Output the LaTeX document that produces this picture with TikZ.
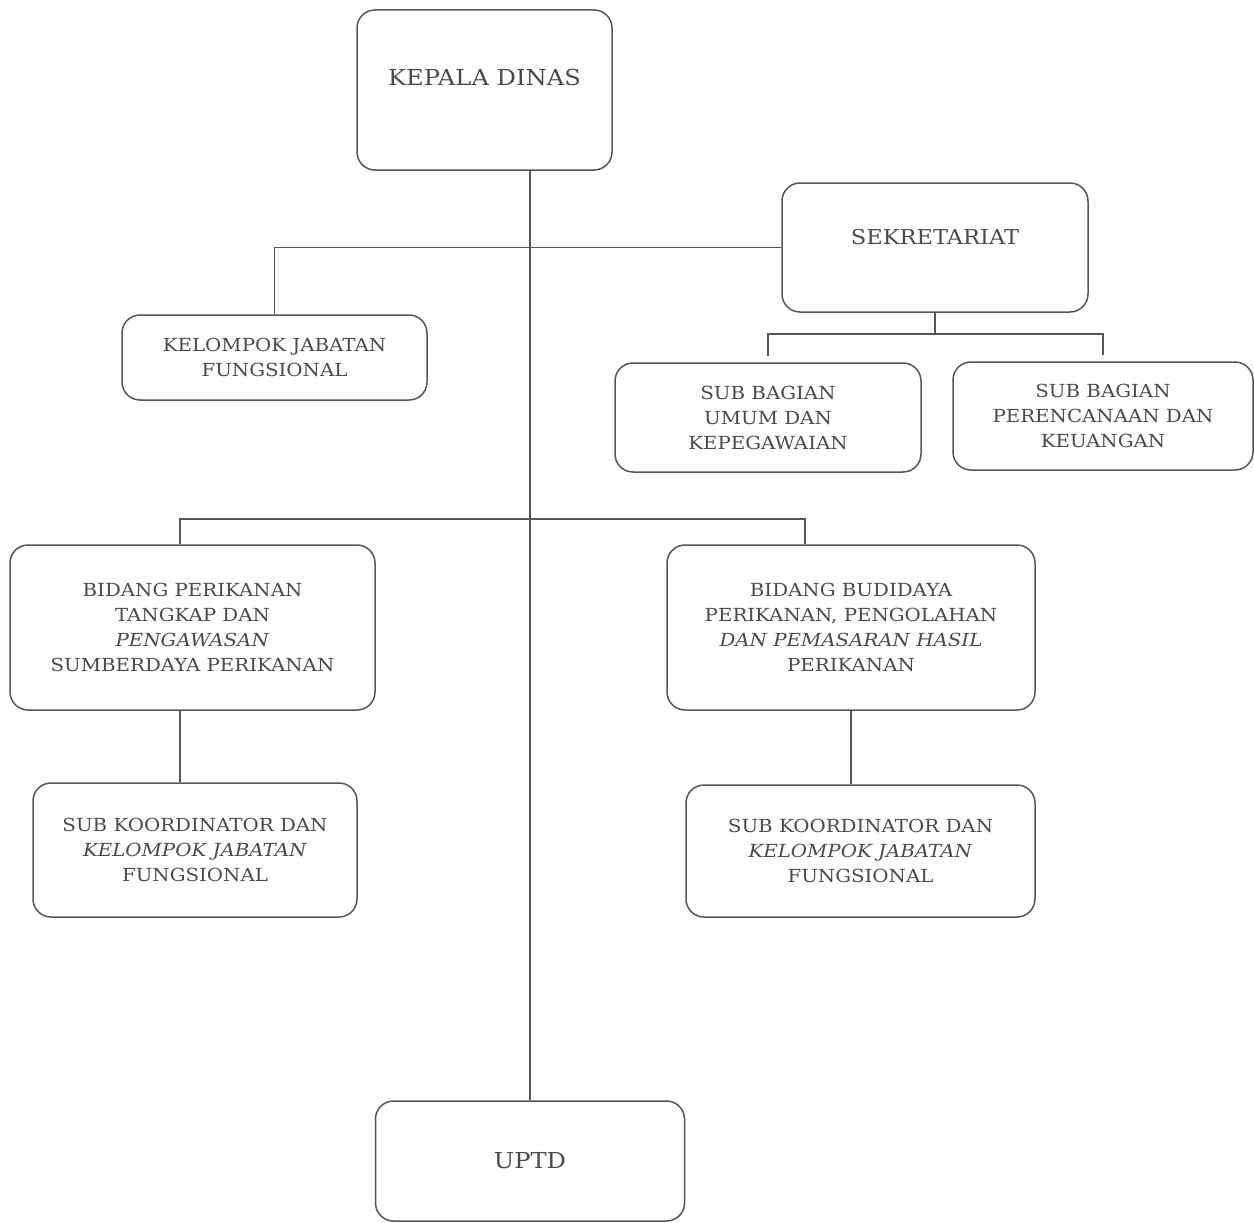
\documentclass[tikz,border=0pt]{standalone}
\usepackage{fontspec}
\setmainfont{DejaVu Serif}[FakeStretch=1.1]
\usetikzlibrary{positioning, calc}
\definecolor{garisAbu}{HTML}{555555}
\definecolor{teksAbu}{HTML}{4A4A4A}

\begin{document}
\begin{tikzpicture}[x=1pt, y=-1pt, font=\fontsize{18}{25}\selectfont,
        kotak/.style={draw=garisAbu, line width=1.5pt, rounded corners=18pt,
            align=center, inner sep=0pt, text=teksAbu},
        besar/.style={font=\fontsize{22}{25}\selectfont},
        garis/.style={draw=garisAbu, line width=1.5pt}]
    \useasboundingbox (0,0) rectangle (1254,1223);
    % pimpinan
    \node[kotak, besar, minimum width=255pt, minimum height=160pt,
        text height=16pt, text depth=24pt] (kadis) at (484.5,90) {KEPALA DINAS};
    \node[kotak, besar, font=\fontsize{20.5}{25}\selectfont, minimum width=306pt, minimum height=129pt,
        text height=15pt, text depth=21pt] (sekre) at (935,247.5) {SEKRETARIAT};
    \node[kotak, minimum width=305pt, minimum height=85pt] (kjf) at (274.5,357.5)
        {KELOMPOK JABATAN\\FUNGSIONAL};
    % sub bagian
    \node[kotak, minimum width=306pt, minimum height=109pt] (subum) at (768,417.5)
        {SUB BAGIAN\\UMUM DAN\\KEPEGAWAIAN};
    \node[kotak, minimum width=300pt, minimum height=108pt] (subren) at (1103,416)
        {SUB BAGIAN\\PERENCANAAN DAN\\KEUANGAN};
    % bidang
    \node[kotak, minimum width=365pt, minimum height=165pt] (bidtangkap) at (192.5,627.5)
        {BIDANG PERIKANAN\\TANGKAP DAN\\\textit{PENGAWASAN}\\SUMBERDAYA PERIKANAN};
    \node[kotak, minimum width=368pt, minimum height=165pt] (bidbudi) at (851,627.5)
        {BIDANG BUDIDAYA\\PERIKANAN, PENGOLAHAN\\\textit{DAN PEMASARAN HASIL}\\PERIKANAN};
    \node[kotak, minimum width=324pt, minimum height=134pt] (koorkiri) at (195,850)
        {SUB KOORDINATOR DAN\\\textit{KELOMPOK JABATAN}\\FUNGSIONAL};
    \node[kotak, minimum width=349pt, minimum height=132pt] (koorkanan) at (860.5,851)
        {SUB KOORDINATOR DAN\\\textit{KELOMPOK JABATAN}\\FUNGSIONAL};
    \node[kotak, besar, minimum width=309pt, minimum height=120pt] (uptd) at (530,1161) {UPTD};

    % garis komando
    \draw[garis] (kadis.south -| uptd.north) -- (uptd.north);
    \draw[garis] (kjf.north) |- (sekre.west);
    \coordinate (cabSekre) at ($(sekre.south)+(0,21)$);
    \draw[garis] (sekre.south) -- (cabSekre);
    \draw[garis, shorten >=6pt] (cabSekre) -| (subum.north);
    \draw[garis, shorten >=6pt] (cabSekre) -| (subren.north);
    \coordinate (busKiri) at (180,519);
    \coordinate (busKanan) at (805,519);
    \draw[garis] (busKiri |- bidtangkap.north) -- (busKiri) -- (busKanan) -- (busKanan |- bidbudi.north);
    \draw[garis] (busKiri |- bidtangkap.south) -- (busKiri |- koorkiri.north);
    \draw[garis] (bidbudi.south) -- (bidbudi.south |- koorkanan.north);
\end{tikzpicture}
\end{document}
